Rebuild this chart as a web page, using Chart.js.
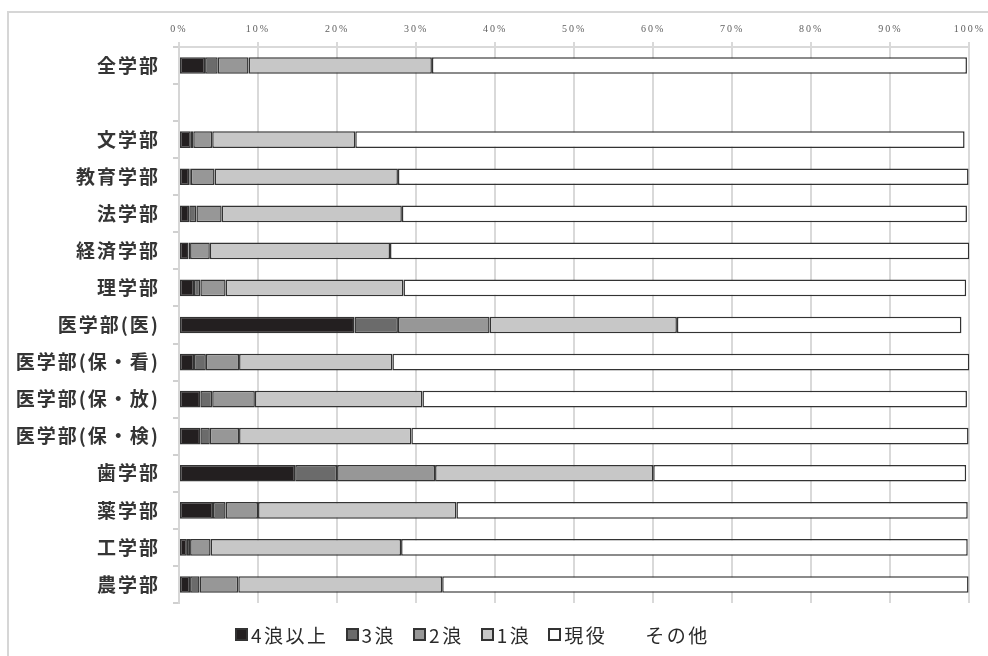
<!DOCTYPE html>
<html lang="ja">
<head>
<meta charset="utf-8">
<title>学部別 現役・浪人の割合</title>
<script src="https://cdn.jsdelivr.net/npm/chart.js@4.4.1/dist/chart.umd.min.js"></script>
<style>
  html, body { margin: 0; padding: 0; background: #fff; }
  body { width: 988px; height: 656px; position: relative; overflow: hidden;
         font-family: "Noto Sans CJK JP", "Noto Sans", sans-serif; }
  #frame { position: absolute; left: 7px; top: 11px; width: 1000px; height: 700px;
           border-left: 2px solid #d6d6d6; border-top: 2px solid #d6d6d6; }
  #wrap { position: absolute; left: 0; top: 0; width: 988px; height: 656px; }
  #legend { position: absolute; left: 235px; top: 621px; display: flex; align-items: center;
            font-size: 19px; color: #2a2a2a; letter-spacing: 2.5px; white-space: nowrap; }
  #legend .item { display: flex; align-items: center; margin-right: 17px; }
  #legend .box { width: 9px; height: 9px; border: 2px solid #333; margin-right: 3px; }
  #legend .box.none { border-color: transparent; margin-right: 8px; }
</style>
</head>
<body>
<div id="frame"></div>
<div id="wrap"><canvas id="ronin"></canvas></div>
<div id="legend"></div>
<script>
// 学部ごとの入学者の内訳（%）
const faculties = ['全学部', '', '文学部', '教育学部', '法学部', '経済学部', '理学部',
  '医学部(医)', '医学部(保・看)', '医学部(保・放)', '医学部(保・検)',
  '歯学部', '薬学部', '工学部', '農学部'];

const ronin4 = [3.3, null, 1.5, 1.3, 1.3, 1.2, 1.9, 22.2, 1.9, 2.7, 2.7, 14.7, 4.3, 1.0, 1.4];
const ronin3 = [1.6, null, 0.3, 0.2, 0.9, 0.2, 0.8, 5.5, 1.5, 1.5, 1.2, 5.3, 1.6, 0.4, 1.2];
const ronin2 = [3.9, null, 2.4, 3.0, 3.2, 2.5, 3.2, 11.6, 4.2, 5.4, 3.7, 12.4, 4.1, 2.6, 4.9];
const ronin1 = [23.2, null, 18.1, 23.2, 22.8, 22.8, 22.5, 23.7, 19.4, 21.2, 21.8, 27.6, 25.1, 24.1, 25.8];
const geneki = [67.7, null, 77.1, 72.2, 71.5, 73.3, 71.2, 36.0, 73.0, 68.9, 70.5, 39.6, 64.7, 71.7, 66.6];
const sonota = [0.3, null, 0.6, 0.1, 0.3, 0.0, 0.4, 1.0, 0.0, 0.3, 0.1, 0.4, 0.2, 0.2, 0.1];

const xTicks = [0, 10, 20, 30, 40, 50, 60, 70, 80, 90, 100];

const edge = '#333333';
function series(label, data, fill, border) {
  return {
    label: label,
    data: data,
    backgroundColor: fill,
    borderColor: border ? edge : 'rgba(0,0,0,0)',
    borderWidth: border ? 1.5 : 0,
    borderSkipped: false,
    categoryPercentage: 1.0,
    barPercentage: 0.45
  };
}

// 目盛り文字の字間を少し広げる
const letterSpacing = {
  id: 'letterSpacing',
  beforeDraw: function (chart) { chart.ctx.letterSpacing = '2px'; }
};

const chart = new Chart(document.getElementById('ronin'), {
  type: 'bar',
  data: {
    labels: faculties,
    datasets: [
      series('4浪以上', ronin4, '#231f20', true),
      series('3浪', ronin3, '#6b6b6b', true),
      series('2浪', ronin2, '#979797', true),
      series('1浪', ronin1, '#c7c7c7', true),
      series('現役', geneki, '#ffffff', true),
      series('その他', sonota, 'rgba(0,0,0,0)', false)
    ]
  },
  plugins: [letterSpacing],
  options: {
    indexAxis: 'y',
    responsive: true,
    maintainAspectRatio: false,
    animation: false,
    layout: { padding: { left: 0, right: 16, top: 0, bottom: 53 } },
    plugins: {
      legend: { display: false },
      tooltip: { enabled: false }
    },
    scales: {
      x: {
        position: 'top',
        stacked: true,
        min: 0,
        max: 100,
        afterBuildTicks: function (scale) {
          scale.ticks = xTicks.map(function (v) { return { value: v }; });
        },
        afterFit: function (scale) { scale.height = 47; },
        grid: { color: '#d9d9d9', lineWidth: 2, tickLength: 5 },
        border: { display: true, color: '#d9d9d9', width: 2 },
        ticks: {
          padding: 7,
          color: '#5e5e5e',
          font: { family: 'Liberation Serif', size: 10 },
          callback: function (v) { return v + '%'; }
        }
      },
      y: {
        stacked: true,
        afterFit: function (scale) { scale.width = 179; },
        grid: { drawOnChartArea: false, offset: true, tickLength: 6, color: '#d0d0d0', lineWidth: 2 },
        border: { display: true, color: '#d6d6d6', width: 2 },
        ticks: {
          padding: 13,
          color: '#353535',
          font: { family: 'Noto Sans CJK JP', size: 19, weight: 'bold' }
        }
      }
    }
  }
});

// 凡例
const legendEl = document.getElementById('legend');
chart.data.datasets.forEach(function (ds) {
  const item = document.createElement('span');
  item.className = 'item';
  const box = document.createElement('span');
  box.className = ds.borderWidth ? 'box' : 'box none';
  box.style.background = ds.backgroundColor;
  const txt = document.createElement('span');
  txt.textContent = ds.label;
  item.appendChild(box);
  item.appendChild(txt);
  legendEl.appendChild(item);
});
</script>
</body>
</html>
